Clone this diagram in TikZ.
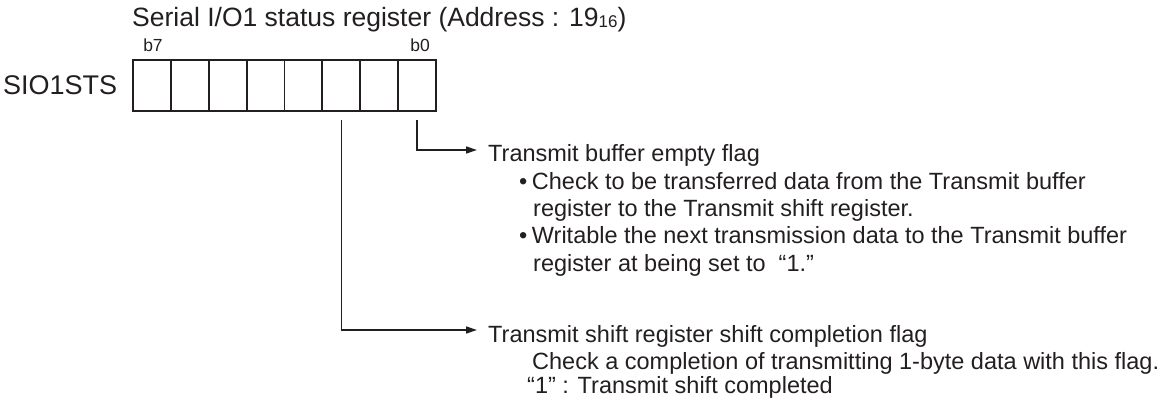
\documentclass[tikz,border=0pt]{standalone}
\usepackage{fontspec}
\setmainfont{Liberation Sans}
\usetikzlibrary{arrows.meta}
\definecolor{ink}{HTML}{231F20}
\tikzset{
  cell/.style={draw=ink, line width=1.8pt, minimum width=37.875pt, minimum height=51pt, inner sep=0pt},
  conn/.style={draw=ink, line width=1.4pt, -{Triangle[length=11pt,width=7pt]}},
  txt/.style={inner sep=0pt, anchor=base west, font=\fontsize{23.5}{28}\selectfont, text=ink},
  small/.style={inner sep=0pt, anchor=base, font=\fontsize{17.5}{20}\selectfont, text=ink}
}
\begin{document}
\begin{tikzpicture}[x=1pt,y=-1pt]
\useasboundingbox (0,0) rectangle (1176,398);
\node[inner sep=0pt, anchor=base west, font=\fontsize{26.5}{30}\selectfont, text=ink] (title) at (132,27)
  {Serial I/O1 status register (Address : 19\raisebox{-0.5pt}{\fontsize{17}{17}\selectfont 16})};
\node[small] (b7) at (153,52) {b7};
\node[small] (b0) at (420,52) {b0};
\node[inner sep=0pt, anchor=base west, font=\fontsize{27}{30}\selectfont, text=ink] (reg) at (3,95) {SIO1STS};
\foreach \i in {0,...,7} \node[cell] (c\i) at ({436-37.875*(\i+0.5)},85.5) {};
\coordinate (a0) at (477,150);
\coordinate (a2) at (477,330);
\draw[conn] ([yshift=-8pt]c0.south) |- (a0);
\draw[conn] ([yshift=-8pt]c2.south) |- (a2);
\node[txt] (t1) at (488,162) {Transmit buffer empty flag};
\node[txt] (t2) at (519,190) {•\hspace{4.5pt}Check to be transferred data from the Transmit buffer};
\node[txt] (t3) at (533,217) {register to the Transmit shift register.};
\node[txt] (t4) at (519,244) {•\hspace{4.5pt}Writable the next transmission data to the Transmit buffer};
\node[txt] (t5) at (533,272) {register at being set to \ “1.”};
\node[txt] (t6) at (488,342) {Transmit shift register shift completion flag};
\node[txt] (t7) at (532,369) {Check a completion of transmitting 1-byte data with this flag.};
\node[txt] (t8) at (527,393) {“1” : Transmit shift completed};
\end{tikzpicture}
\end{document}
